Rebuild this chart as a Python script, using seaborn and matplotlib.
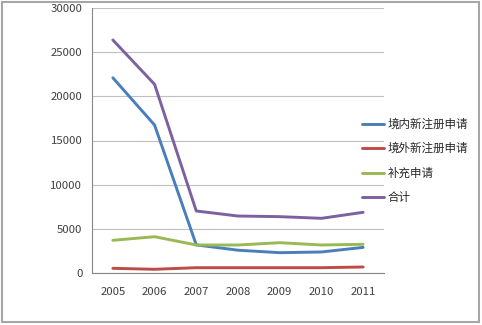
import matplotlib
matplotlib.use("Agg")
import matplotlib.pyplot as plt
import seaborn as sns
import pandas as pd
from matplotlib.patches import Rectangle
from matplotlib.ticker import FixedLocator, NullFormatter

years = ["2005", "2006", "2007", "2008", "2009", "2010", "2011"]
domestic = [22100, 16750, 3180, 2580, 2300, 2380, 2900]
foreign = [530, 420, 600, 600, 600, 600, 680]
supplement = [3700, 4110, 3170, 3170, 3430, 3170, 3250]
total = [26380, 21360, 7020, 6450, 6380, 6190, 6870]
series_names = ["境内新注册申请", "境外新注册申请", "补充申请", "合计"]
colors = ["#4A7EBB", "#BE4B48", "#98B954", "#7D60A0"]

sns.set_theme(style="white")
plt.rcParams['font.family'] = ['Noto Sans CJK SC', 'DejaVu Sans']

rows = []
for name, vals in zip(series_names, [domestic, foreign, supplement, total]):
    for y, v in zip(years, vals):
        rows.append({"year": y, "value": v, "series": name})
df = pd.DataFrame(rows)

fig = plt.figure(figsize=(4.82, 3.25), dpi=100)
ax = fig.add_axes([92/482, 1-273/325, (384-92)/482, (273-8)/325])

sns.lineplot(data=df, x="year", y="value", hue="series", palette=colors,
             hue_order=series_names, linewidth=2.1, ax=ax, sort=False)

ax.set_xlim(-0.5, 6.5)
ax.set_ylim(0, 30000)
ax.set_yticks(range(0, 30001, 5000))
ax.set_yticklabels([str(v) for v in range(0, 30001, 5000)])
ax.set_xticks(range(len(years)), minor=True)
ax.set_xticklabels(years, minor=True)
ax.xaxis.set_major_locator(FixedLocator([i - 0.5 for i in range(len(years) + 1)]))
ax.xaxis.set_major_formatter(NullFormatter())
ax.tick_params(axis='x', which='minor', length=0, pad=10, labelsize=8.2, colors='#404040')
ax.tick_params(axis='x', which='major', length=4, color='#868686', width=0.8, direction='out')
ax.tick_params(axis='y', length=4, color='#868686', width=0.8, labelsize=8.2, colors='#404040', pad=3, direction='out')
ax.set_xlabel("")
ax.set_ylabel("")
ax.yaxis.grid(True, color='#BFBFBF', linewidth=0.8)
ax.set_axisbelow(True)
for s in ['top', 'right']:
    ax.spines[s].set_visible(False)
for s in ['left', 'bottom']:
    ax.spines[s].set_color('#868686')
    ax.spines[s].set_linewidth(0.8)

ax.legend(loc='upper left', bbox_to_anchor=(362/482, 1-118/325), bbox_transform=fig.transFigure,
          frameon=False, fontsize=8.3, handlelength=1.9, handletextpad=0.3,
          labelspacing=0.98, borderaxespad=0, borderpad=0)

fig.patches.append(Rectangle((2/482, 3/325), 477/482, 320/325, transform=fig.transFigure,
                             fill=False, edgecolor='#A6A6A6', linewidth=1.5))

fig.savefig("out.png", dpi=100)
